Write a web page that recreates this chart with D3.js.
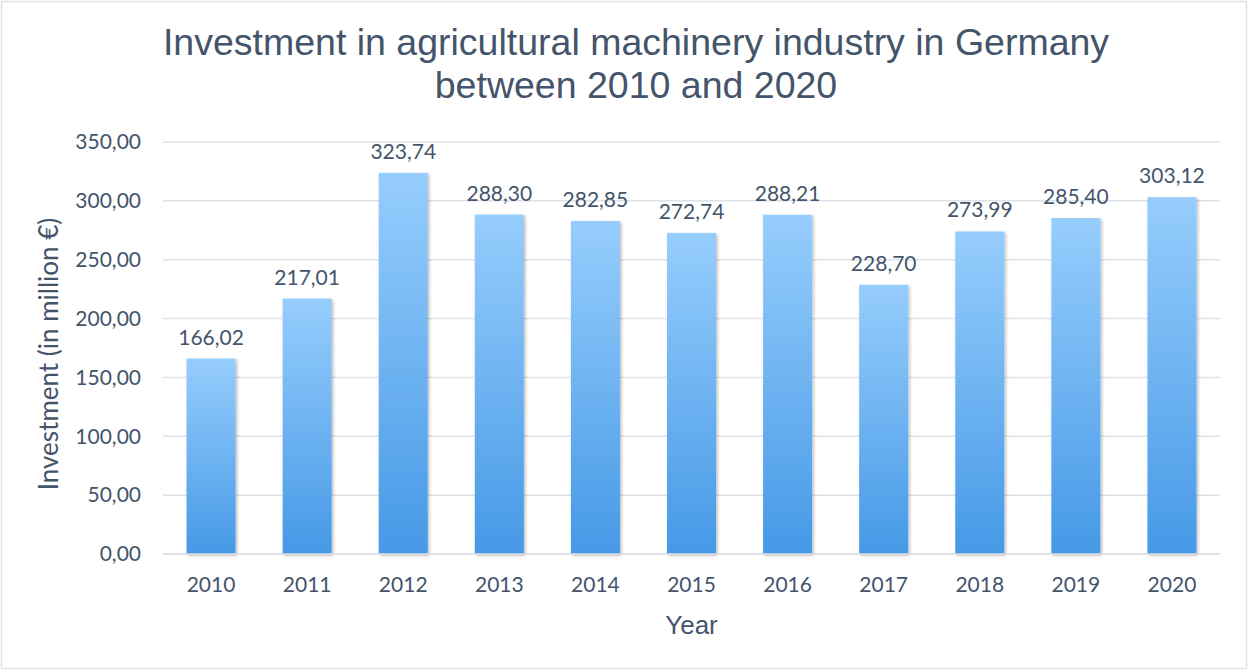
<!DOCTYPE html>
<html>
<head>
<meta charset="utf-8">
<script src="https://cdn.jsdelivr.net/npm/d3@7"></script>
<style>
  html, body { margin: 0; padding: 0; background: #fff; }
  svg { display: block; }
</style>
</head>
<body>
<svg id="chart" width="1248" height="670"></svg>
<script>
// Investment figures, million euro, per year
const years = ["2010", "2011", "2012", "2013", "2014", "2015", "2016", "2017", "2018", "2019", "2020"];
const investment = [166.02, 217.01, 323.74, 288.30, 282.85, 272.74, 288.21, 228.70, 273.99, 285.40, 303.12];
const yTicks = [0, 50, 100, 150, 200, 250, 300, 350];
const titleLines = ["Investment in agricultural machinery industry in Germany", "between 2010 and 2020"];

const W = 1248, H = 670;
const margin = { top: 142, right: 28, bottom: 116, left: 163 };
const textColor = "#44546A";
const gridColor = "#DDE2E9";
const labelFont = "Lato, 'Open Sans', sans-serif";
const sansFont = "'Liberation Sans', Arial, sans-serif";

const svg = d3.select("#chart");

const defs = svg.append("defs");
const grad = defs.append("linearGradient")
  .attr("id", "barFill").attr("x1", 0).attr("y1", 0).attr("x2", 0).attr("y2", 1);
grad.append("stop").attr("offset", "0%").attr("stop-color", "#96CDFD");
grad.append("stop").attr("offset", "100%").attr("stop-color", "#4699E6");

const shadow = defs.append("filter").attr("id", "barShadow")
  .attr("x", "-20%").attr("y", "-5%").attr("width", "140%").attr("height", "115%");
shadow.append("feDropShadow")
  .attr("dx", 1.5).attr("dy", 1.5).attr("stdDeviation", 1.6)
  .attr("flood-color", "#000").attr("flood-opacity", 0.28);

// Outer frame
svg.append("rect")
  .attr("x", 1.5).attr("y", 1.5).attr("width", W - 3).attr("height", H - 3)
  .attr("fill", "#fff").attr("stroke", "#DFE3EA").attr("stroke-width", 1.5);

const x = d3.scaleBand()
  .domain(years)
  .range([margin.left, W - margin.right])
  .paddingInner(0.49).paddingOuter(0.245);

const y = d3.scaleLinear()
  .domain([0, 350])
  .range([H - margin.bottom, margin.top]);

// Gridlines
svg.append("g")
  .selectAll("line")
  .data(yTicks)
  .join("line")
  .attr("x1", margin.left).attr("x2", W - margin.right)
  .attr("y1", d => y(d)).attr("y2", d => y(d))
  .attr("stroke", gridColor).attr("stroke-width", 1.5);

// Y axis labels
const fmt = v => d3.format(".2f")(v).replace(".", ",");
const yAxis = d3.axisLeft(y).tickValues(yTicks).tickFormat(fmt).tickSize(0).tickPadding(22);
const gy = svg.append("g").attr("transform", `translate(${margin.left},0)`).call(yAxis);
gy.select(".domain").remove();
gy.selectAll("text")
  .attr("fill", textColor).style("font-family", labelFont).style("font-size", "21px");

// Bars
svg.append("g")
  .selectAll("rect")
  .data(years.map((yr, i) => ({ yr, v: investment[i] })))
  .join("rect")
  .attr("x", d => x(d.yr))
  .attr("width", x.bandwidth())
  .attr("y", d => y(d.v))
  .attr("height", d => y(0) - y(d.v))
  .attr("fill", "url(#barFill)")
  .attr("filter", "url(#barShadow)");

// Baseline
svg.append("line")
  .attr("x1", margin.left).attr("x2", W - margin.right)
  .attr("y1", y(0)).attr("y2", y(0))
  .attr("stroke", gridColor).attr("stroke-width", 1.5);

// X axis labels
const xAxis = d3.axisBottom(x).tickSize(0).tickPadding(23);
const gx = svg.append("g").attr("transform", `translate(0,${y(0)})`).call(xAxis);
gx.select(".domain").remove();
gx.selectAll("text")
  .attr("fill", textColor).style("font-family", labelFont).style("font-size", "21px");

// Value labels
svg.append("g")
  .selectAll("text")
  .data(years.map((yr, i) => ({ yr, v: investment[i] })))
  .join("text")
  .attr("x", d => x(d.yr) + x.bandwidth() / 2)
  .attr("y", d => y(d.v) - 14)
  .attr("text-anchor", "middle")
  .attr("fill", textColor)
  .style("font-family", labelFont).style("font-size", "21px")
  .text(d => fmt(d.v));

// Title
svg.append("text")
  .attr("x", 636).attr("y", 55)
  .attr("text-anchor", "middle")
  .attr("fill", textColor)
  .style("font-family", sansFont).style("font-size", "37.5px")
  .selectAll("tspan")
  .data(titleLines)
  .join("tspan")
  .attr("x", 636)
  .attr("dy", (d, i) => i === 0 ? 0 : 43)
  .text(d => d);

// Axis titles
svg.append("text")
  .attr("transform", `translate(58,${(y(0) + y(350)) / 2 + 6}) rotate(-90)`)
  .attr("text-anchor", "middle")
  .attr("fill", textColor)
  .style("font-family", labelFont).style("font-size", "26px")
  .text("Investment (in million €)");

svg.append("text")
  .attr("x", (margin.left + W - margin.right) / 2).attr("y", 634)
  .attr("text-anchor", "middle")
  .attr("fill", textColor)
  .style("font-family", sansFont).style("font-size", "26px")
  .text("Year");
</script>
</body>
</html>
